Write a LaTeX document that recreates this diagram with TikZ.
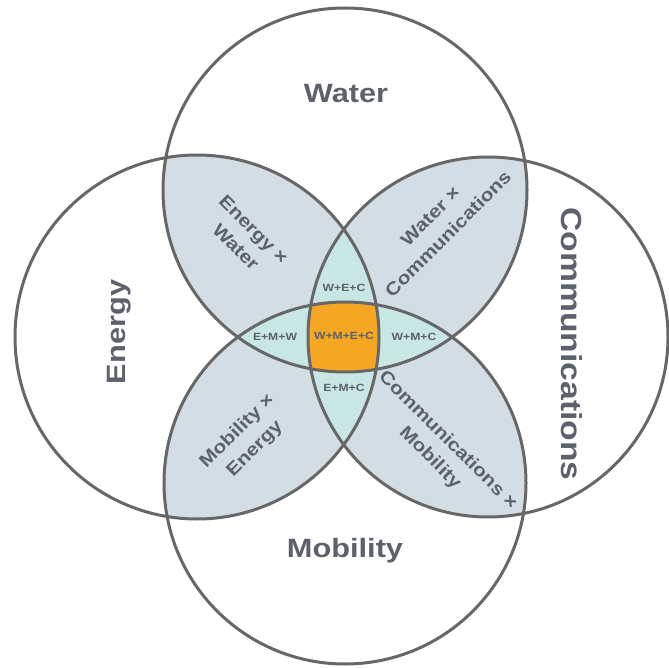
\documentclass[tikz,border=0pt]{standalone}
\usepackage{fontspec}
\usepackage{graphicx}
\setmainfont{Liberation Sans}
\definecolor{ringc}{HTML}{676767}
\definecolor{pairc}{HTML}{D3DDE4}
\definecolor{triplec}{HTML}{C8E7E4}
\definecolor{quadc}{HTML}{F5A623}
\definecolor{txtc}{HTML}{5C616C}
\newcommand{\stretched}[1]{\scalebox{1.16}[1]{#1}}
\newcommand{\twolines}[2]{\stretched{\begin{tabular}{@{}c@{}}#1\\#2\end{tabular}}}
\tikzset{
  ring/.style={draw=ringc, line width=3pt},
  mainlbl/.style={text=txtc, font=\fontsize{26.5}{30}\selectfont\bfseries, inner sep=0pt},
  pairlbl/.style={text=txtc, font=\fontsize{18}{25}\selectfont\bfseries, inner sep=0pt},
  triplbl/.style={text=txtc, font=\fontsize{10.5}{12}\selectfont\bfseries, inner sep=0pt}
}
\begin{document}
\begin{tikzpicture}[x=1pt,y=-1pt]
\useasboundingbox (0,0) rectangle (669,668);
\coordinate (T) at (345,190);
\coordinate (B) at (345,483);
\coordinate (L) at (197,337);
\coordinate (R) at (488,337);
\def\rT{182}\def\rB{181}\def\rL{182}\def\rR{180}
% pairwise overlaps
\begin{scope}\clip (T) circle[radius=\rT];
  \fill[pairc] (L) circle[radius=\rL]; \fill[pairc] (R) circle[radius=\rR]; \fill[pairc] (B) circle[radius=\rB];
\end{scope}
\begin{scope}\clip (B) circle[radius=\rB];
  \fill[pairc] (L) circle[radius=\rL]; \fill[pairc] (R) circle[radius=\rR];
\end{scope}
\begin{scope}\clip (L) circle[radius=\rL];
  \fill[pairc] (R) circle[radius=\rR];
\end{scope}
% triple overlaps
\begin{scope}\clip (T) circle[radius=\rT]; \clip (L) circle[radius=\rL];
  \fill[triplec] (R) circle[radius=\rR]; \fill[triplec] (B) circle[radius=\rB];
\end{scope}
\begin{scope}\clip (B) circle[radius=\rB]; \clip (R) circle[radius=\rR];
  \fill[triplec] (T) circle[radius=\rT]; \fill[triplec] (L) circle[radius=\rL];
\end{scope}
% quadruple overlap
\begin{scope}\clip (T) circle[radius=\rT]; \clip (L) circle[radius=\rL]; \clip (R) circle[radius=\rR];
  \fill[quadc] (B) circle[radius=\rB];
\end{scope}
% outlines
\draw[ring] (T) circle[radius=\rT];
\draw[ring] (L) circle[radius=\rL];
\draw[ring] (R) circle[radius=\rR];
\draw[ring] (B) circle[radius=\rB];
% main labels
\node[mainlbl] (water) at (346,94) {\stretched{Water}};
\node[mainlbl] (mobility) at (345,551) {\stretched{Mobility}};
\node[mainlbl, rotate=90] (energy) at (119,332) {\stretched{Energy}};
\node[mainlbl, font=\fontsize{29}{32}\selectfont\bfseries, rotate=-90] (comm) at (572,344) {\stretched{Communications}};
% pairwise labels
\node[pairlbl, rotate=-45] (ew) at (244,239) {\twolines{Energy ×}{Water}};
\node[pairlbl, rotate=45] (wc) at (440,226) {\twolines{Water ×}{Communications}};
\node[pairlbl, rotate=45] (me) at (246,440) {\twolines{Mobility ×}{Energy}};
\node[pairlbl, rotate=-45] (cm) at (439,449) {\twolines{Communications ×}{Mobility}};
% triple and quadruple labels
\node[triplbl] (wec) at (344,288) {\stretched{W+E+C}};
\node[triplbl] (emc) at (344,388) {\stretched{E+M+C}};
\node[triplbl] (emw) at (275,337) {\stretched{E+M+W}};
\node[triplbl] (wmc) at (414,337) {\stretched{W+M+C}};
\node[triplbl] (wmec) at (344,336) {\stretched{W+M+E+C}};
\end{tikzpicture}
\end{document}
